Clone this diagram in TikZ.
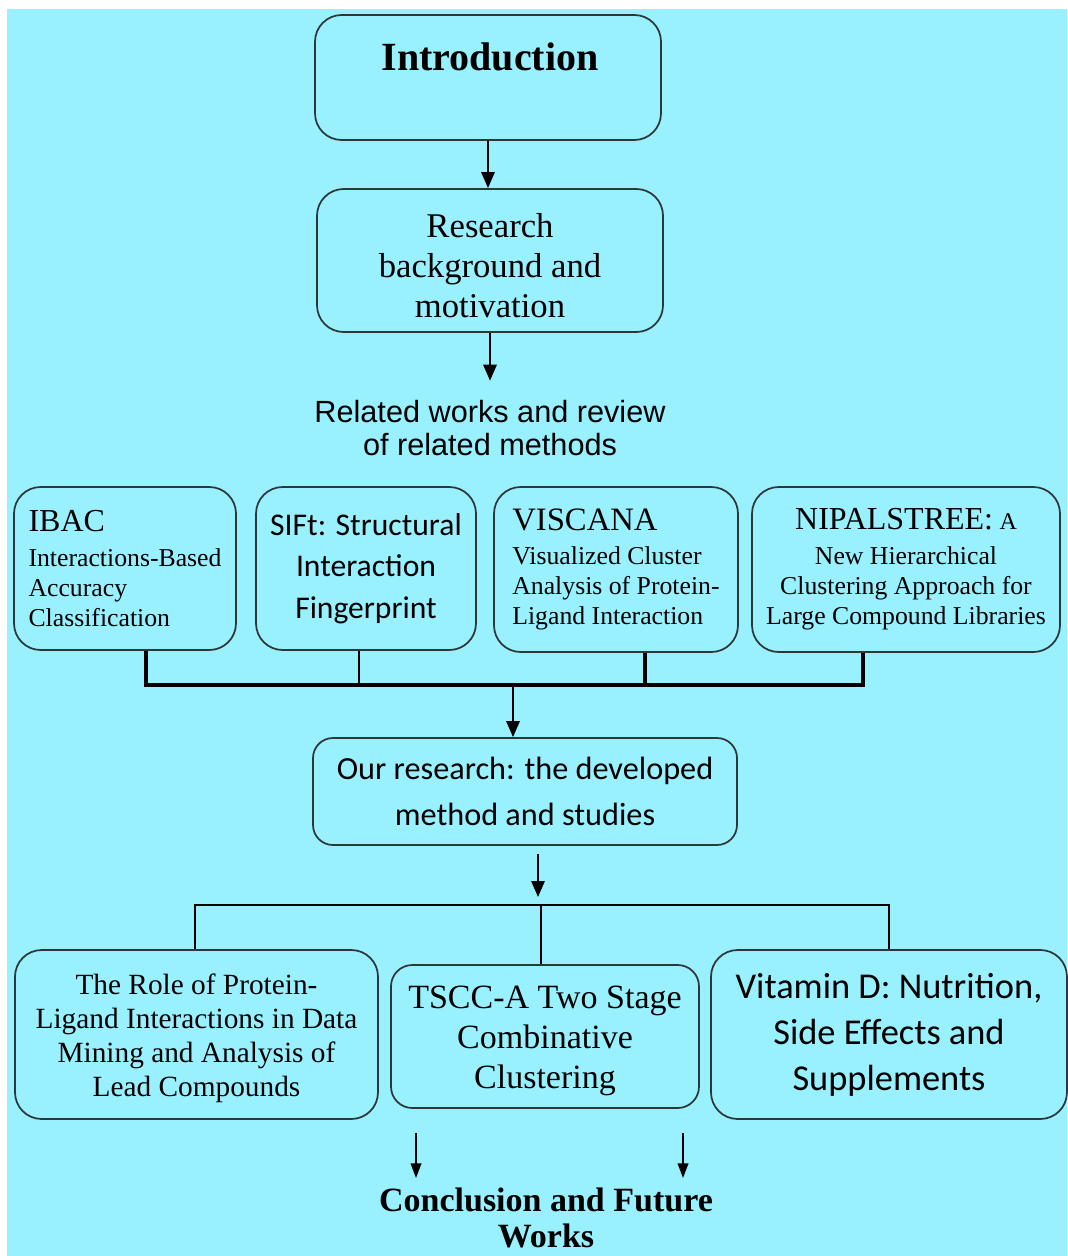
\documentclass[tikz,border=0pt]{standalone}
\usepackage{fontspec}
\setmainfont{Liberation Serif}
\newfontfamily\calib{Carlito}
\newfontfamily\arialf{Liberation Sans}
\usetikzlibrary{arrows.meta}
\definecolor{bgcyan}{RGB}{153,240,255}
\definecolor{edgec}{RGB}{45,55,55}
\begin{document}
\begin{tikzpicture}[x=0.75pt,y=-0.75pt,
  box/.style={draw=edgec,line width=1.3pt,rounded corners=20pt,inner sep=0pt,align=center},
  arr/.style={draw=black,line width=1.4pt,-{Triangle[length=12pt,width=10pt]}},
  arrsmall/.style={draw=black,line width=1.2pt,-{Triangle[length=11pt,width=8pt]}},
  busthick/.style={draw=black,line width=2.3pt},
  busthin/.style={draw=black,line width=1.5pt},
  serifsub/.style={font=\fontsize{19.3}{22.5}\selectfont}]
\useasboundingbox (0,0) rectangle (1067,1256);
\fill[white] (0,0) rectangle (1067,1256);
\fill[bgcyan] (7,9) rectangle (1067,1256);

% top chain
\node[box,minimum width=259.5pt,minimum height=93.75pt] (intro) at (488,77.5) {};
\node[font=\fontsize{30}{36}\selectfont\bfseries] (introtxt) at (490,57) {Introduction};
\node[box,minimum width=259.5pt,minimum height=107.25pt,font=\fontsize{26}{30}\selectfont] (research) at (490,260.5) {\rule{0pt}{25pt}Research\\background and\\motivation};
\node[font=\arialf\fontsize{23}{25}\selectfont,align=center] (related) at (490,428) {Related works and review\\of related methods};

\draw[arr] (intro.south) -- (intro.south |- research.north);
\draw[arr,shorten >=11pt] (research.south -| related.north) -- (related.north);

% four method boxes
\node[box,minimum width=166.5pt,minimum height=122.25pt,align=left,serifsub] (ibac) at (125,568.5)
  {{\fontsize{24}{24}\selectfont IBAC}\\[3.5pt]Interactions-Based\\Accuracy\\Classification};
\node[box,minimum width=165pt,minimum height=122.25pt,font=\calib\fontsize{23.7}{31}\selectfont] (sift) at (366,568.5)
  {SIFt: Structural\\Interaction\\Fingerprint};
\node[box,minimum width=183pt,minimum height=123.75pt,align=left,serifsub] (viscana) at (616,569.5)
  {{\fontsize{24.5}{24}\selectfont VISCANA}\\[3.5pt]Visualized Cluster\\Analysis of Protein-\\Ligand Interaction};
\node[box,minimum width=231pt,minimum height=123.75pt,serifsub] (nipals) at (906,569.5)
  {{\fontsize{24}{24}\selectfont NIPALSTREE:} {\fontsize{18}{18}\selectfont A}\\[3.5pt]New Hierarchical\\Clustering Approach for\\Large Compound Libraries};

% collecting bus
\coordinate (bl) at (146,685);
\coordinate (br) at (863,685);
\coordinate (bs) at (359,685);
\coordinate (bv) at (645,685);
\coordinate (bo) at (513,685);
\draw[busthick] (ibac.south -| bl) -- (bl) -- (br) -- (nipals.south -| br);
\draw[busthin] (sift.south -| bs) -- (bs);
\draw[busthick] (viscana.south -| bv) -- (bv);

\node[box,rounded corners=15pt,minimum width=318pt,minimum height=80.25pt,font=\calib\fontsize{24.2}{34}\selectfont] (ours) at (525,791.5)
  {Our research: the developed\\method and studies};
\draw[arr] (bo) -- (bo |- ours.north);

% distributing bus
\coordinate (oa) at (538,897);
\coordinate (c1) at (195,905);
\coordinate (c2) at (541,905);
\coordinate (c3) at (889,905);

\node[box,minimum width=272.25pt,minimum height=126.75pt,font=\fontsize{22}{25.5}\selectfont] (role) at (196.5,1034.5)
  {\rule{0pt}{21pt}The Role of Protein-\\Ligand Interactions in Data\\Mining and Analysis of\\Lead Compounds};
\node[box,rounded corners=16pt,minimum width=231pt,minimum height=107.25pt,font=\fontsize{25.5}{30}\selectfont] (tscc) at (545,1036.5)
  {\rule{0pt}{23pt}TSCC-A Two Stage\\Combinative\\Clustering};
\node[box,minimum width=267pt,minimum height=126.75pt,font=\calib\fontsize{27.3}{34.5}\selectfont] (vit) at (889,1034.5)
  {Vitamin D: Nutrition,\\Side Effects and\\Supplements};

\draw[arr,shorten <=6pt] (ours.south -| oa) -- (oa);
\draw[busthin] (role.north -| c1) -- (c1) -- (c3) -- (vit.north -| c3);
\draw[busthin] (c2) -- (c2 |- tscc.north);

% conclusion
\node[font=\bfseries\fontsize{25.5}{27.5}\selectfont,align=center,inner sep=2pt] (concl) at (546,1218) {Conclusion and Future\\Works};
\coordinate (la) at (416,1133);
\coordinate (ra) at (683,1133);
\coordinate (lb) at (416,1178);
\coordinate (rb) at (683,1178);
\draw[arrsmall] (la) -- (lb);
\draw[arrsmall] (ra) -- (rb);
\end{tikzpicture}
\end{document}
